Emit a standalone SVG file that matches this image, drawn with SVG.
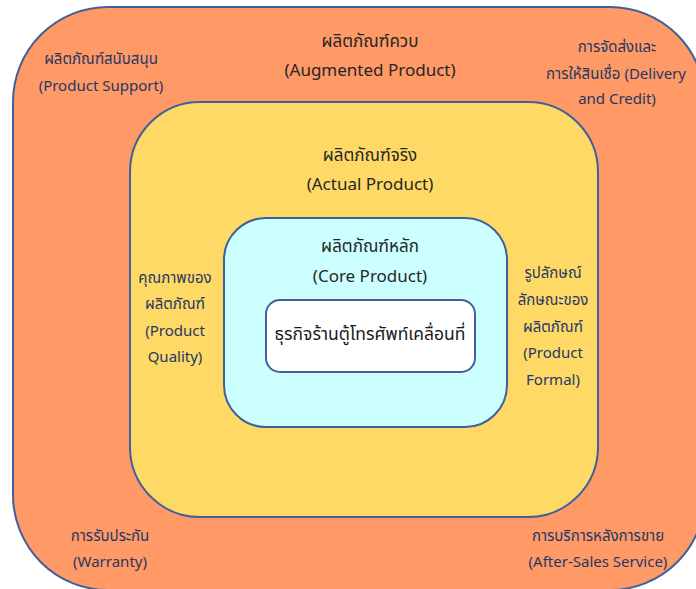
<svg xmlns="http://www.w3.org/2000/svg" width="696" height="589" viewBox="0 0 696 589">
  <style>
    .layer { stroke: #41609a; stroke-width: 2; }
    .t { font-family: "Noto Sans Thai", "Noto Sans", "DejaVu Sans", sans-serif; text-anchor: middle; }
    .title { font-size: 17px; fill: #262626; }
    .side { font-size: 15px; fill: #1f3864; }
    .core { font-size: 17.5px; fill: #1a1a1a; }
  </style>

  <rect width="696" height="589" fill="#ffffff"/>

  <!-- Augmented product layer -->
  <g id="augmented">
    <rect class="layer" x="13" y="7" width="692" height="583" rx="95" ry="95" fill="#ff9966"/>
    <text class="t title" x="370" y="47">ผลิตภัณฑ์ควบ</text>
    <text class="t title" x="370" y="76">(Augmented Product)</text>
  </g>

  <g id="support">
    <text class="t side" x="101" y="64">ผลิตภัณฑ์สนับสนุน</text>
    <text class="t side" x="101" y="91">(Product Support)</text>
  </g>

  <g id="delivery">
    <text class="t side" x="617" y="52">การจัดส่งและ</text>
    <text class="t side" x="616" y="79">การให้สินเชื่อ (Delivery</text>
    <text class="t side" x="617" y="104">and Credit)</text>
  </g>

  <g id="warranty">
    <text class="t side" x="110" y="541">การรับประกัน</text>
    <text class="t side" x="110" y="567">(Warranty)</text>
  </g>

  <g id="after-sales">
    <text class="t side" x="598" y="541">การบริการหลังการขาย</text>
    <text class="t side" x="598" y="567">(After-Sales Service)</text>
  </g>

  <!-- Actual product layer -->
  <g id="actual">
    <rect class="layer" x="130" y="102" width="468" height="415" rx="70" ry="70" fill="#ffd966"/>
    <text class="t title" x="370" y="161">ผลิตภัณฑ์จริง</text>
    <text class="t title" x="370" y="190">(Actual Product)</text>
  </g>

  <g id="quality">
    <text class="t side" x="175" y="283">คุณภาพของ</text>
    <text class="t side" x="175" y="309">ผลิตภัณฑ์</text>
    <text class="t side" x="175" y="336">(Product</text>
    <text class="t side" x="175" y="362">Quality)</text>
  </g>

  <g id="formal">
    <text class="t side" x="553" y="278">รูปลักษณ์</text>
    <text class="t side" x="553" y="305">ลักษณะของ</text>
    <text class="t side" x="553" y="332">ผลิตภัณฑ์</text>
    <text class="t side" x="553" y="358">(Product</text>
    <text class="t side" x="553" y="385">Formal)</text>
  </g>

  <!-- Core product layer -->
  <g id="core">
    <rect class="layer" x="224" y="218" width="283" height="209" rx="42" ry="42" fill="#ccffff"/>
    <text class="t title" x="370" y="252">ผลิตภัณฑ์หลัก</text>
    <text class="t title" x="370" y="282">(Core Product)</text>
  </g>

  <g id="business">
    <rect class="layer" x="266" y="300" width="209" height="72" rx="14" ry="14" fill="#ffffff"/>
    <text class="t core" x="370" y="340">ธุรกิจร้านตู้โทรศัพท์เคลื่อนที่</text>
  </g>

  <g id="connectors"/>
</svg>
